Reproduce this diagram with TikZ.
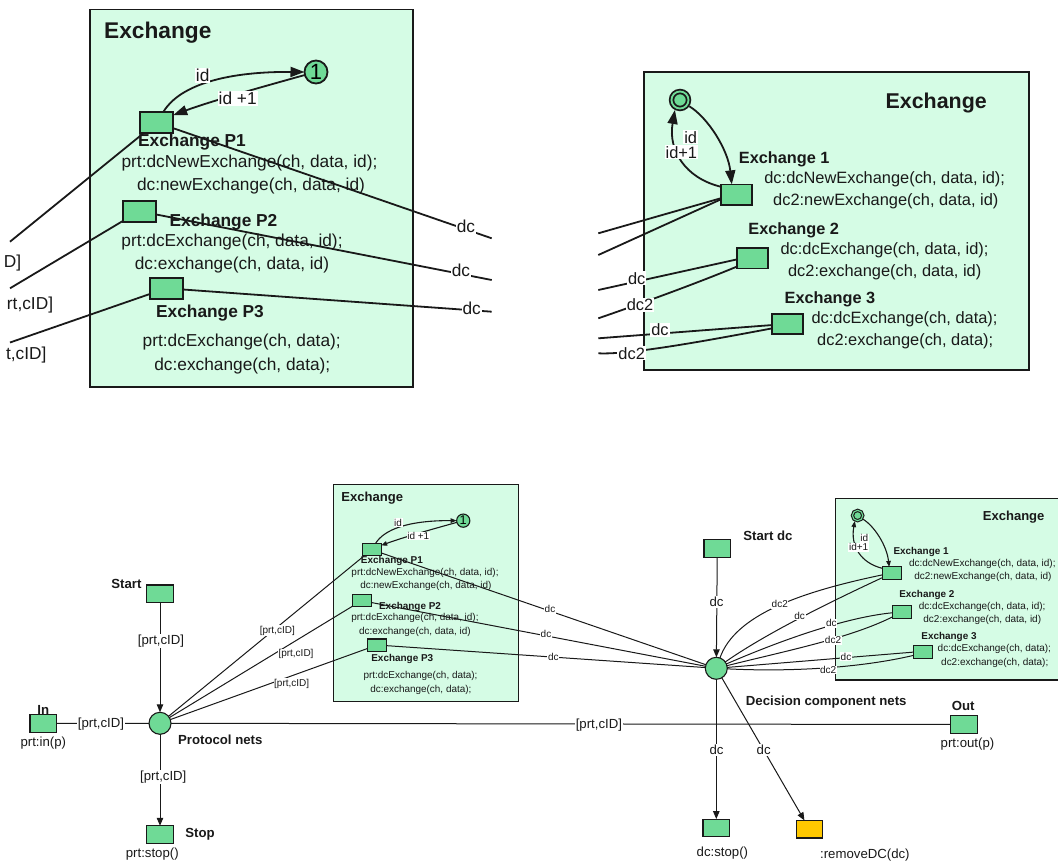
\documentclass[tikz,border=0pt]{standalone}
\usepackage{fontspec}
\setmainfont{Liberation Sans}
\usetikzlibrary{arrows.meta}

\definecolor{netgreen}{RGB}{111,218,150}
\definecolor{boxmint}{RGB}{213,252,229}
\definecolor{amber}{RGB}{255,200,0}
\definecolor{ink}{RGB}{25,25,25}

\newcommand\fsz[1]{\fontsize{#1}{#1}\selectfont}

\tikzset{
  trans/.style={draw=ink, fill=netgreen, rectangle, inner sep=0pt, outer sep=0pt},
  place/.style={draw=ink, fill=netgreen, circle, inner sep=0pt, outer sep=0pt},
  exframe/.style={draw=ink, fill=boxmint},
  txt/.style={inner sep=0pt, text=ink},
  lbl/.style={fill=white, inner sep=1pt, text=ink},
  conn/.style={draw=ink, line width=1pt},
  tconn/.style={draw=ink, line width=1.8pt},
  bigtip/.style={-{Triangle[length=14pt, width=10pt]}},
  smalltip/.style={-{Triangle[length=8pt, width=6.5pt]}},
  tinytip/.style={-{Triangle[length=6pt, width=4.5pt]}},
  bold13/.style={txt, font=\bfseries\fsz{13.2}},
  reg13/.style={txt, font=\fsz{13.2}},
  lbl13/.style={lbl, font=\fsz{13.2}},
  lbl10/.style={lbl, font=\fsz{10}, inner sep=0.6pt},
  tlbl/.style={lbl, font=\fsz{17.3}},
  rlbl/.style={lbl, font=\fsz{16.4}},
  smalltrans/.style={trans, minimum width=26.7pt, minimum height=17.5pt, line width=1.1pt},
}

% Exchange sub-net of the protocol side: #1 node prefix, #2 stroke width, #3 arrow tip
\newcommand\protoexchange[3]{%
  \draw[exframe, line width=#2] (0,0) rectangle (322.7,377.2);
  \node[txt, anchor=west, font=\bfseries\fsz{22.7}] at (14,23.5) {Exchange};
  \node[place, minimum size=23pt, line width=#2, font=\fsz{22}] (#1c) at (226,62.5) {1};
  \node[trans, minimum width=33pt, minimum height=21pt, line width=#2] (#1p1) at (66.7,113) {};
  \node[trans, minimum width=33pt, minimum height=21pt, line width=#2] (#1p2) at (49.3,201.7) {};
  \node[trans, minimum width=33pt, minimum height=21pt, line width=#2] (#1p3) at (76.3,278.8) {};
  \node[txt, font=\bfseries\fsz{17.3}] at (102,132.2) {Exchange P1};
  \node[txt, font=\fsz{17.3}] at (159.5,153.5) {prt:dcNewExchange(ch, data, id);};
  \node[txt, font=\fsz{17.3}] at (161,176.2) {dc:newExchange(ch, data, id)};
  \node[txt, font=\bfseries\fsz{17.3}] at (133.5,212.2) {Exchange P2};
  \node[txt, font=\fsz{17.3}] at (142,232.2) {prt:dcExchange(ch, data, id);};
  \node[txt, font=\fsz{17.3}] at (142,255.5) {dc:exchange(ch, data, id)};
  \node[txt, font=\bfseries\fsz{17.3}] at (120,303.8) {Exchange P3};
  \node[txt, font=\fsz{17.3}] at (151.7,332.8) {prt:dcExchange(ch, data);};
  \node[txt, font=\fsz{17.3}] at (152.3,356.2) {dc:exchange(ch, data);};
  \draw[draw=ink, line width=#2, #3] (#1p1.58) .. controls (88,78) and (130,62) .. (#1c.180)
    node[lbl, font=\fsz{17.3}] at (112.7,65.8) {id};
  \draw[draw=ink, line width=#2, #3] (#1c.195) .. controls (170,78) and (120,92) .. (#1p1.24)
    node[lbl, font=\fsz{17.3}] at (147.7,88.8) {id +1};
}

% Exchange sub-net of the decision component side
\newcommand\decisionexchange[3]{%
  \draw[exframe, line width=#2] (0,0) rectangle (384.7,298.3);
  \node[txt, font=\bfseries\fsz{21.4}] at (292.2,31.6) {Exchange};
  \node[place, minimum size=17pt, line width=#2, double=netgreen, double distance=#2,
        outer sep=1.5*#2] (#1c) at (36,28.3) {};
  \node[trans, minimum width=31pt, minimum height=20.5pt, line width=#2] (#1e1) at (92.35,122.95) {};
  \node[trans, minimum width=31pt, minimum height=20.5pt, line width=#2] (#1e2) at (108.5,186.6) {};
  \node[trans, minimum width=31pt, minimum height=20.5pt, line width=#2] (#1e3) at (143.2,252.3) {};
  \node[txt, font=\bfseries\fsz{16.3}] at (140.2,87.6) {Exchange 1};
  \node[txt, font=\fsz{16.4}] at (240.7,107.3) {dc:dcNewExchange(ch, data, id);};
  \node[txt, font=\fsz{16.4}] at (241.8,129.6) {dc2:newExchange(ch, data, id)};
  \node[txt, font=\bfseries\fsz{16.3}] at (149.7,158.6) {Exchange 2};
  \node[txt, font=\fsz{16.4}] at (240.5,179) {dc:dcExchange(ch, data, id);};
  \node[txt, font=\fsz{16.4}] at (240.7,200.3) {dc2:exchange(ch, data, id)};
  \node[txt, font=\bfseries\fsz{16.3}] at (186,227.6) {Exchange 3};
  \node[txt, font=\fsz{16.4}] at (260.5,247.6) {dc:dcExchange(ch, data);};
  \node[txt, font=\fsz{16.4}] at (261.2,270) {dc2:exchange(ch, data);};
  \draw[draw=ink, line width=#2, #3] (#1c.-34) .. controls (64,46) and (84,78) .. (#1e1.114)
    node[lbl, anchor=east, font=\fsz{16.4}] at (55,65.6) {id};
  \draw[draw=ink, line width=#2, #3] (#1e1.153) .. controls (41,106.3) and (24,78.3) .. (#1c.-117)
    node[lbl, anchor=east, font=\fsz{16.4}] at (55,80.6) {id+1};
}

\begin{document}
\begin{tikzpicture}[x=1pt, y=-1pt]
\useasboundingbox (0,0) rectangle (1058,862);
\clip (0,0) rectangle (1058,862);

% ---------- enlarged protocol exchange sub-net ----------
\begin{scope}[shift={(90,9.5)}, transform shape]
  \protoexchange{T}{1.8pt}{bigtip}
\end{scope}
\coordinate (tl1) at (10,241.7);
\coordinate (tl2) at (10,288.3);
\coordinate (tl3) at (10,342.5);
\coordinate (tr1) at (491.7,238.3);
\coordinate (tr2) at (491.7,280);
\coordinate (tr3) at (491.7,311.7);
\draw[tconn] (Tp1) -- (tl1) node[tlbl, anchor=east] at (23,263.3) {D]};
\draw[tconn] (Tp2) -- (tl2) node[tlbl, anchor=east] at (55,305) {rt,cID]};
\draw[tconn] (Tp3) -- (tl3) node[tlbl, anchor=east] at (48.3,355) {t,cID]};
\draw[tconn] (Tp1) -- (tr1) node[tlbl] at (466,226.7) {dc};
\draw[tconn] (Tp2) -- (tr2) node[tlbl] at (461,270.7) {dc};
\draw[tconn] (Tp3) -- (tr3) node[tlbl] at (471.7,308.3) {dc};

% ---------- enlarged decision component exchange sub-net ----------
\begin{scope}[shift={(644,71.7)}, transform shape]
  \decisionexchange{R}{1.8pt}{bigtip}
\end{scope}
\coordinate (ra1) at (598.3,233.3);
\coordinate (ra2) at (598.3,255);
\coordinate (ra3) at (598.3,290);
\coordinate (ra4) at (598.3,318.3);
\coordinate (ra5) at (598.3,338.3);
\coordinate (ra6) at (598.3,353.3);
\draw[tconn] (ra1) -- (Re1.193);
\draw[tconn] (ra2) -- (Re1.197);
\draw[tconn] (ra3) -- (Re2.184) node[rlbl] at (636.7,278.3) {dc};
\draw[tconn] (ra4) .. controls (640,304) and (700,282) .. (Re2.208) node[rlbl] at (640,305) {dc2};
\draw[tconn] (ra5) -- (Re3.184) node[rlbl] at (660,330) {dc};
\draw[tconn] (ra6) .. controls (630,355) and (710,340) .. (Re3.196) node[rlbl] at (631.7,353.3) {dc2};

% ---------- complete net ----------
\begin{scope}[shift={(333.3,484.7)}, scale=0.575, transform shape]
  \protoexchange{B}{1.1pt}{tinytip}
\end{scope}
\begin{scope}[shift={(835.7,498.3)}, scale=0.609, transform shape]
  \decisionexchange{D}{1.1pt}{tinytip}
\end{scope}

% protocol side
\node[smalltrans] (start) at (160,593.7) {};
\node[bold13, anchor=east] at (141.7,584) {Start};
\node[place, minimum size=22pt, line width=1.1pt] (pn) at (160,723.3) {};
\node[bold13] at (220.3,739.3) {Protocol nets};
\node[smalltrans] (in) at (43.3,723.5) {};
\node[bold13] at (43.3,709.5) {In};
\node[reg13] at (43.3,743.3) {prt:in(p)};
\node[smalltrans] (stop) at (160,834.5) {};
\node[bold13] at (200,834) {Stop};
\node[reg13] at (152.3,854) {prt:stop()};

% decision component side
\node[smalltrans] (startdc) at (717.3,548.5) {};
\node[bold13] at (767.9,536) {Start dc};
\node[place, minimum size=22pt, line width=1.1pt] (dcp) at (716.3,668.3) {};
\node[bold13] at (826.2,701.7) {Decision component nets};
\node[smalltrans] (dcstop) at (716.3,827.8) {};
\node[reg13] at (722.4,853.3) {dc:stop()};
\node[smalltrans, fill=amber] (rmdc) at (809.5,829.2) {};
\node[reg13] at (864.9,855) {:removeDC(dc)};
\node[smalltrans] (out) at (963.7,724.5) {};
\node[bold13] at (963.2,706) {Out};
\node[reg13] at (967.5,744) {prt:out(p)};

% arcs of the protocol net
\draw[conn, smalltip] (start) -- (pn) node[lbl13] at (161,641) {[prt,cID]};
\draw[conn] (in) -- (pn) node[lbl13] at (101,724) {[prt,cID]};
\draw[conn, smalltip] (pn) -- (stop) node[lbl13] at (163.3,776.7) {[prt,cID]};
\draw[conn] (pn) -- (out) node[lbl13] at (598.9,725) {[prt,cID]};
\draw[conn] (pn) -- (Bp1) node[lbl10] at (277.3,630.7) {[prt,cID]};
\draw[conn] (pn) -- (Bp2) node[lbl10] at (296,654.3) {[prt,cID]};
\draw[conn] (pn) -- (Bp3) node[lbl10] at (291.7,683.5) {[prt,cID]};
\draw[conn] (Bp1) -- (dcp) node[lbl10] at (550,609.3) {dc};
\draw[conn] (Bp2) -- (dcp) node[lbl10] at (546,634.3) {dc};
\draw[conn] (Bp3) -- (dcp) node[lbl10] at (553.3,656.7) {dc};

% arcs of the decision component net
\draw[conn, smalltip] (startdc) -- (dcp) node[lbl13] at (716.6,601.7) {dc};
\draw[conn, smalltip] (dcp) -- (dcstop) node[lbl13] at (716.6,750) {dc};
\draw[conn, smalltip] (dcp) -- (rmdc) node[lbl13] at (763.7,750) {dc};
\draw[conn] (dcp) .. controls (735,615) and (800,592) .. (De1.190) node[lbl10] at (779.8,604.3) {dc2};
\draw[conn] (dcp) .. controls (765,634) and (830,602) .. (De1.205) node[lbl10] at (799.7,615.7) {dc};
\draw[conn] (dcp) .. controls (770,645) and (840,618) .. (De2.185) node[lbl10] at (831.3,623.3) {dc};
\draw[conn] (dcp) .. controls (790,650) and (850,638) .. (De2.208) node[lbl10] at (833,640.3) {dc2};
\draw[conn] (dcp) -- (De3.181) node[lbl10] at (846,656.7) {dc};
\draw[conn] (dcp) .. controls (790,672) and (860,668) .. (De3.200) node[lbl10] at (828.2,670) {dc2};
\end{tikzpicture}
\end{document}
